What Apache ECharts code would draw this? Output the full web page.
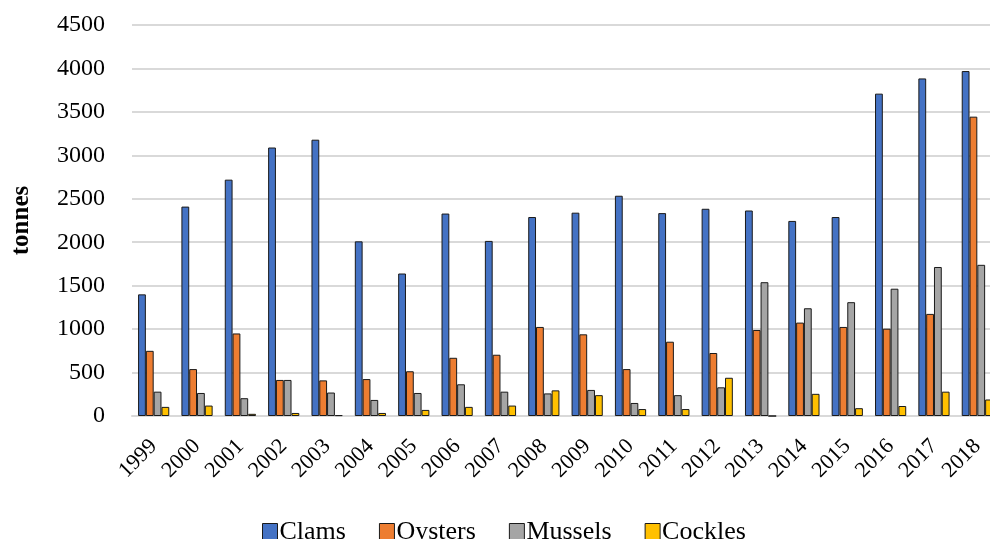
<!DOCTYPE html>
<html>
<head>
<meta charset="utf-8">
<script src="https://cdn.jsdelivr.net/npm/echarts@6/dist/echarts.min.js"></script>
<style>
  html, body { margin: 0; padding: 0; background: #fff; }
  #chart { width: 990px; height: 539px; }
</style>
</head>
<body>
<div id="chart"></div>
<script>
// Shellfish landings per year, in tonnes
const years = ['1999','2000','2001','2002','2003','2004','2005','2006','2007','2008',
               '2009','2010','2011','2012','2013','2014','2015','2016','2017','2018'];
const clams   = [1400, 2410, 2720, 3090, 3180, 2010, 1640, 2330, 2015, 2290,
                 2340, 2535, 2335, 2385, 2365, 2245, 2290, 3710, 3885, 3970];
const oysters = [750, 540, 950, 415, 410, 425, 515, 670, 705, 1025,
                 940, 540, 855, 725, 990, 1075, 1025, 1005, 1175, 3445];
const mussels = [280, 265, 205, 415, 270, 185, 265, 365, 280, 260,
                 300, 150, 240, 330, 1540, 1240, 1310, 1465, 1715, 1740];
const cockles = [105, 120, 25, 35, 10, 35, 70, 105, 120, 295,
                 240, 80, 80, 440, 0, 255, 90, 115, 280, 190];
const yTicks = [0, 500, 1000, 1500, 2000, 2500, 3000, 3500, 4000, 4500];

const FONT = '"Liberation Serif", "DejaVu Serif", serif';
const chart = echarts.init(document.getElementById('chart'), null, { renderer: 'canvas' });

function barSeries(name, data, color) {
  return {
    name: name,
    type: 'bar',
    data: data,
    barGap: '0%',
    barCategoryGap: '28%',
    itemStyle: { color: color, borderColor: '#1a1a1a', borderWidth: 1 },
    emphasis: { disabled: true }
  };
}

chart.setOption({
  animation: false,
  backgroundColor: '#ffffff',
  textStyle: { fontFamily: FONT, color: '#000' },
  // the plot runs slightly past the right edge of the canvas
  grid: {
    left: 132, width: 867, top: 25, bottom: 123,
    containLabel: false, outerBoundsMode: 'none'
  },
  legend: {
    left: 257,
    top: 514,
    icon: 'rect',
    itemWidth: 15,
    itemHeight: 17,
    itemGap: 33,
    textStyle: { fontFamily: FONT, fontSize: 26, color: '#000', padding: [0, 0, 0, -3] },
    itemStyle: { borderColor: '#1a1a1a', borderWidth: 1 }
  },
  xAxis: {
    type: 'category',
    data: years,
    axisLine: { show: true, lineStyle: { color: '#d9d9d9', width: 2 } },
    axisTick: { show: false },
    axisLabel: {
      rotate: 45,
      fontFamily: FONT,
      fontSize: 22,
      color: '#000',
      margin: 27,
      interval: 0
    }
  },
  yAxis: {
    type: 'value',
    min: 0,
    max: 4500,
    interval: 500,
    name: 'tonnes',
    nameLocation: 'middle',
    nameGap: 98,
    nameTextStyle: { fontFamily: FONT, fontSize: 25, fontWeight: 'bold', color: '#000' },
    axisLine: { show: false },
    axisTick: { show: false },
    splitLine: { lineStyle: { color: '#d9d9d9', width: 2 } },
    axisLabel: {
      fontFamily: FONT,
      fontSize: 24,
      color: '#000',
      margin: 27,
      formatter: function (v) { return yTicks.indexOf(v) >= 0 ? String(v) : ''; }
    }
  },
  series: [
    barSeries('Clams', clams, '#4472C4'),
    barSeries('Oysters', oysters, '#ED7D31'),
    barSeries('Mussels', mussels, '#A5A5A5'),
    barSeries('Cockles', cockles, '#FFC000')
  ]
});
</script>
</body>
</html>
